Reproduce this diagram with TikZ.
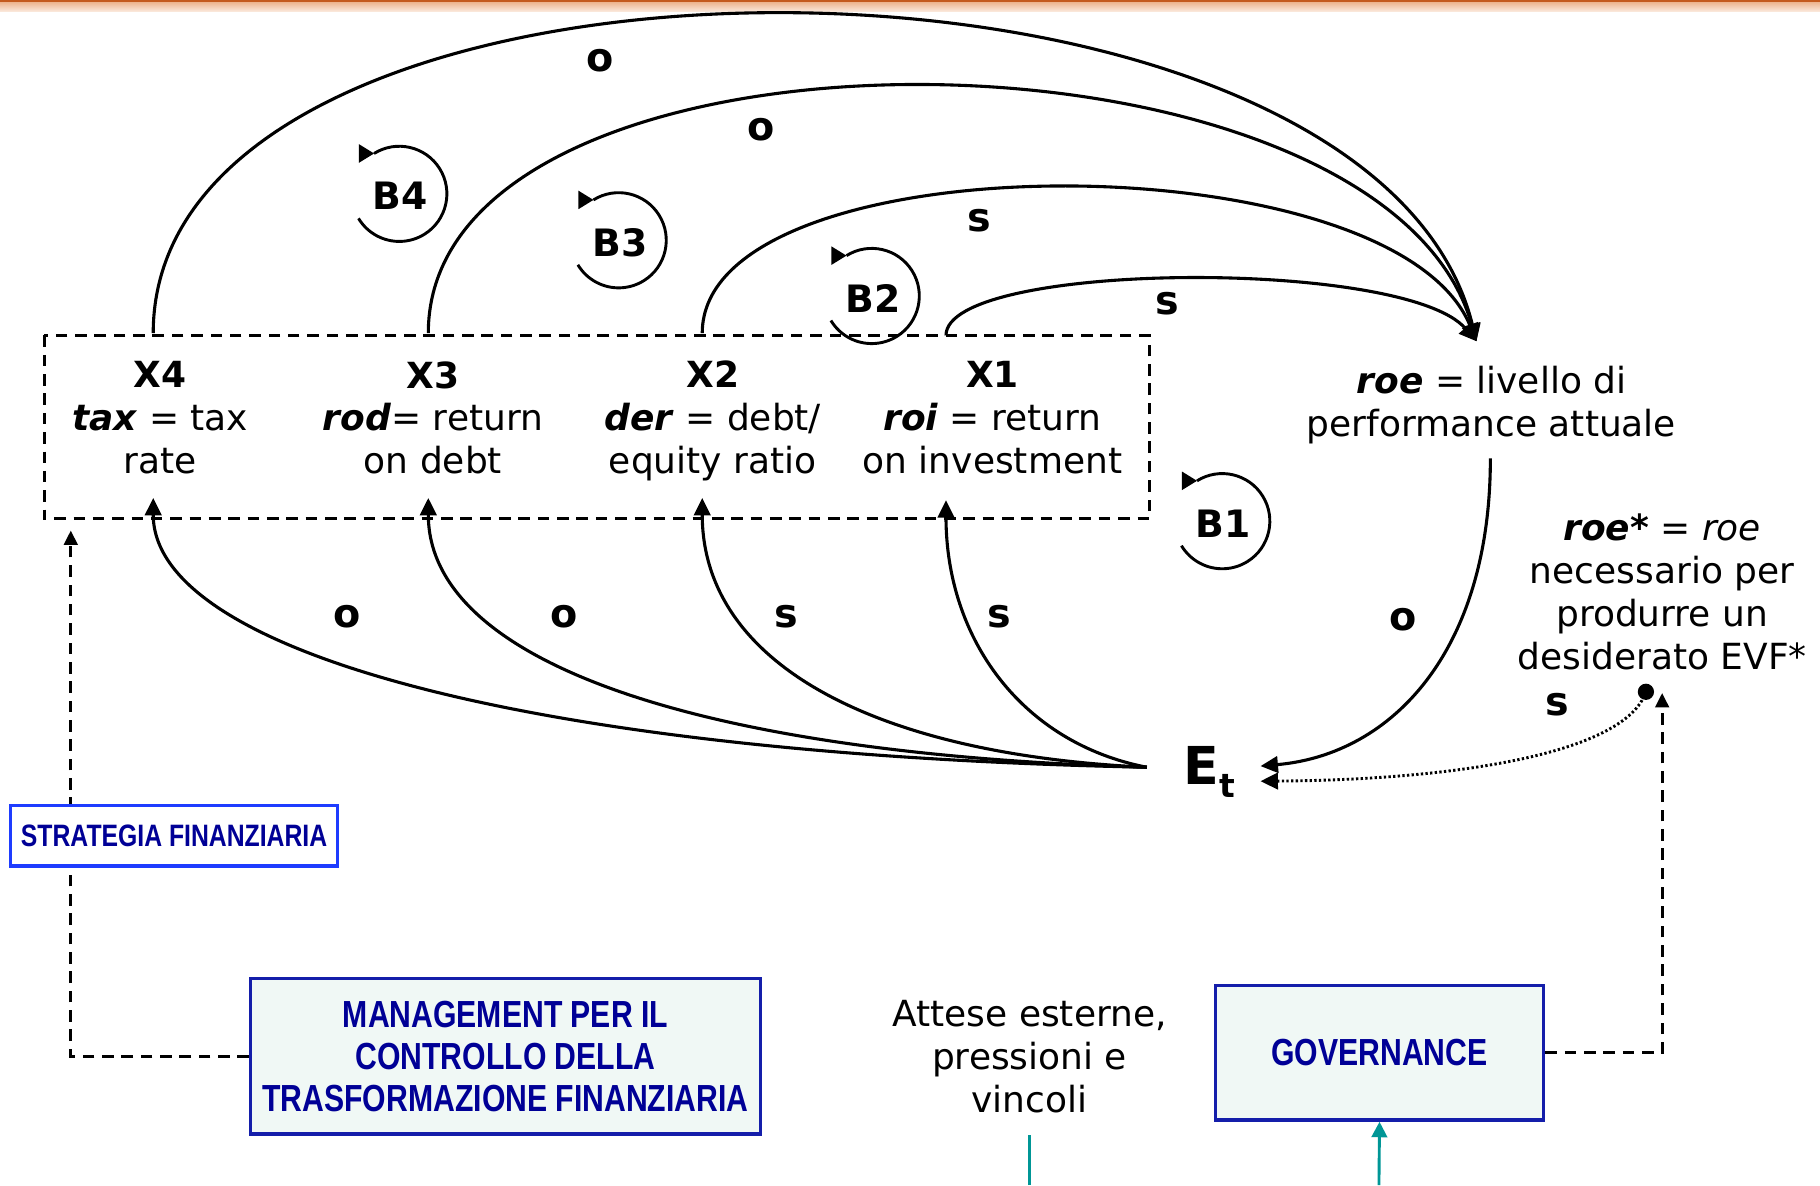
\documentclass[tikz,border=0pt]{standalone}
\usepackage{fontspec}
\setmainfont{DejaVu Sans}
\newfontfamily\boxfont[FakeStretch=0.8]{Liberation Sans}
\usetikzlibrary{arrows.meta}
\definecolor{navy}{RGB}{0,0,150}
\definecolor{boxline}{RGB}{20,30,170}
\definecolor{strline}{RGB}{30,60,255}
\definecolor{boxfill}{RGB}{240,248,245}
\definecolor{tealline}{RGB}{0,150,150}
\definecolor{orbar}{RGB}{196,90,30}
\definecolor{orlight}{RGB}{238,185,150}
\definecolor{orpale}{RGB}{251,234,222}
\newcommand\drawbloop[4]{%
  \fill ([shift={(-122:41)}]#2,#3) -- ++(-13,-8) -- ++(0,16) -- cycle;
  \draw[line width=1.5pt] ([shift={(-122:41)}]#2,#3) arc[start angle=-122,end angle=149,radius=41];
  \node[loopname] (#1) at (#2+1,#3+2) {#4};
}
\begin{document}
\begin{tikzpicture}[x=0.6pt,y=-0.6pt,
  link/.style={line width=1.6pt,-{Triangle[length=9pt,width=8.5pt]}},
  lbl/.style={font=\fontsize{20.5}{22}\selectfont\bfseries,inner sep=0pt},
  loopname/.style={font=\fontsize{19.5}{21}\selectfont\bfseries,inner sep=0pt},
  vartext/.style={font=\fontsize{18.6}{22.2}\selectfont,align=center,inner sep=0pt},
  blubox/.style={draw=boxline,line width=1.7pt,fill=boxfill,text=navy,
     font=\boxfont\bfseries\fontsize{19.5}{21.6}\selectfont,align=center,inner sep=0pt},
  dashline/.style={line width=1.5pt,dash pattern=on 6pt off 4pt},
  dasharrow/.style={dashline,-{Triangle[length=7.5pt,width=7pt]}},
  tealarrow/.style={tealline,line width=1.5pt}
]
\useasboundingbox (0,0) rectangle (1568,1021);
% top bar
\fill[orbar] (0,0) rectangle (1568,2.5);
\shade[top color=orlight,bottom color=orpale] (0,2.5) rectangle (1568,10);

% dashed box of variables
\draw[dashline] (38,289) rectangle (990,447);

% variable texts
\node[vartext] (x4) at (138,360) {\textbf{X4}\\\textbf{\textit{tax}} = tax\\rate};
\node[vartext] (x3) at (373,360) {\textbf{X3}\\\textbf{\textit{rod}}= return\\on debt};
\node[vartext] (x2) at (614,362.5) {\textbf{X2}\\\textbf{\textit{der}} = debt/\\equity ratio};
\node[vartext] (x1) at (855,360) {\textbf{X1}\\\textbf{\textit{roi}} = return\\on investment};
\node[vartext] (roe) at (1285,349) {\textbf{\textit{roe}} = livello di\\performance attuale};
\node[vartext] (roestar) at (1432,510) {\textbf{\textit{roe*}} = \textit{roe}\\necessario per\\produrre un\\desiderato EVF*};
\node[vartext] (attese) at (887,910) {Attese esterne,\\pressioni e\\vincoli};
\node[inner sep=0pt,font=\fontsize{27}{30}\selectfont\bfseries] (et) at (1042,665)
  {E\raisebox{-7pt}{\fontsize{17}{20}\selectfont t}};

% coordinates
\coordinate (x4t) at (132,287);
\coordinate (x3t) at (369,287);
\coordinate (x2t) at (605,287);
\coordinate (x1t) at (815,289);
\coordinate (x4b) at (132,429);
\coordinate (x3b) at (369,429);
\coordinate (x2b) at (605,429);
\coordinate (x1b) at (815,431);
\coordinate (roetop) at (1272,294);
\coordinate (roebot) at (1284,395);
\coordinate (etl) at (988,661);
\coordinate (etr1) at (1086,660);
\coordinate (etr2) at (1086,673);
\coordinate (evfdot) at (1418,596);
\coordinate (govtip) at (1432,597);
\coordinate (strtip) at (61,457);
\coordinate (attbot) at (887,1021);
\coordinate (govbot) at (1188,1021);

% top arcs to roe
\draw[link] (x4t) .. controls (132,-80) and (1180,-80) .. (roetop);
\draw[link] (x3t) .. controls (369,0) and (1190,5) .. (roetop);
\draw[link] (x2t) .. controls (605,120) and (1200,118) .. (roetop);
\draw[link] (x1t) .. controls (815,225) and (1210,222) .. (roetop);
\node[lbl] (lo1) at (517,52) {o};
\node[lbl] (lo2) at (656,112) {o};
\node[lbl] (ls3) at (844,190) {s};
\node[lbl] (ls4) at (1006,262) {s};

% bottom curves from Et
\draw[link] (etl) .. controls (450,650) and (132,560) .. (x4b);
\draw[link] (etl) .. controls (600,650) and (369,570) .. (x3b);
\draw[link] (etl) .. controls (750,650) and (605,570) .. (x2b);
\draw[link] (etl) .. controls (880,640) and (815,550) .. (x1b);
\node[lbl] (lo5) at (299,531) {o};
\node[lbl] (lo6) at (486,531) {o};
\node[lbl] (ls7) at (677,531) {s};
\node[lbl] (ls8) at (861,531) {s};

% roe -> Et
\draw[link] (roebot) .. controls (1284,560) and (1200,650) .. (etr1);
\node[lbl] (lo9) at (1209,534) {o};
% roe* -> Et dotted
\fill (evfdot) circle[radius=7];
\draw[link,line width=1.5pt,dash pattern=on 1.2pt off 1.2pt] (evfdot) .. controls (1400,650) and (1250,672) .. (etr2);
\node[lbl] (ls10) at (1342,607) {s};

% loops
\drawbloop{b4}{344}{167}{B4}
\drawbloop{b3}{533}{207}{B3}
\drawbloop{b2}{751}{255}{B2}
\drawbloop{b1}{1053}{449}{B1}

% boxes
\node[blubox,minimum width=439*0.6pt,minimum height=134*0.6pt] (mgmt) at (435.5,910)
  {MANAGEMENT PER IL\\CONTROLLO DELLA\\TRASFORMAZIONE FINANZIARIA};
\node[blubox,minimum width=283*0.6pt,minimum height=116*0.6pt] (gov) at (1188.5,907) {GOVERNANCE};
\draw[dasharrow] (mgmt.west) -| (strtip);
\draw[dasharrow] (gov.east) -| (govtip);
\node[blubox,draw=strline,fill=white,font=\boxfont\bfseries\fontsize{16}{18}\selectfont,
  minimum width=282*0.6pt,minimum height=52*0.6pt] (strat) at (150,720) {STRATEGIA FINANZIARIA};

% teal lines
\draw[tealarrow] (attbot) -- (887,978);
\draw[tealarrow,-{Triangle[length=8pt,width=8pt]}] (govbot) -- (gov.south);
\end{tikzpicture}
\end{document}
